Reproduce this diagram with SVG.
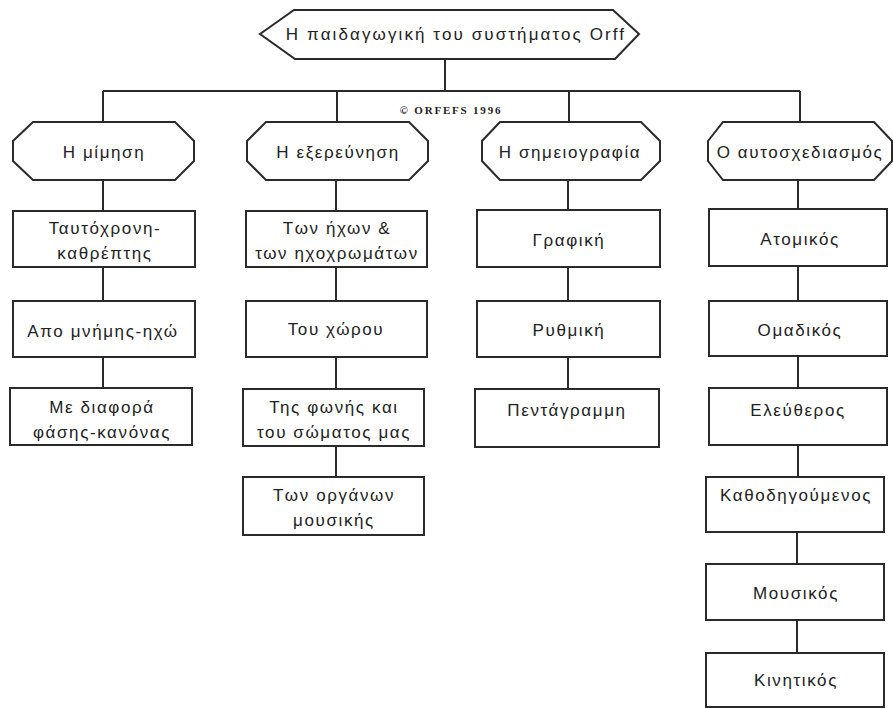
<svg xmlns="http://www.w3.org/2000/svg" width="893" height="708" viewBox="0 0 893 708">
<style>
.shape{fill:#fff;stroke:#2a2a2a;stroke-width:2}
.ln{stroke:#2a2a2a;stroke-width:2;fill:none}
text{font-family:"Liberation Sans",Arial,sans-serif;font-size:17px;fill:#222;text-anchor:middle;dominant-baseline:central;letter-spacing:1.6px}
.title{font-size:17px;letter-spacing:2.1px}
.copy{font-family:"Liberation Serif","Times New Roman",serif;font-size:11px;font-weight:bold;letter-spacing:1.8px}
</style>
<rect width="893" height="708" fill="#fff"/>
<g id="connectors" class="ln">
<path d="M445 59V91M103 91H800M103 91V122M337 91V122M569 91V122M800 91V122"/>
<path d="M103 180V211M103 267V301M103 357V388"/>
<path d="M336 180V211M336 267V301M336 357V389M336 446V477"/>
<path d="M568 180V210M568 267V301M568 357V389"/>
<path d="M798 180V209M798 266V301M798 356V388M798 445V477M797 532V564M797 620V653"/>
</g>
<g id="root"><polygon class="shape" points="260,34 294,10 613,10 639,34 615,59 295,59"/><text class="title" x="456" y="34">Η παιδαγωγική του συστήματος Orff</text></g>
<g id="copyright"><text class="copy" x="451" y="110">© ORFEFS 1996</text></g>
<g id="mimisi"><polygon class="shape" points="33,122 175,122 194,141 194,161 175,180 33,180 13,161 13,141"/><text x="104" y="152">Η μίμηση</text></g>
<g id="exerevnisi"><polygon class="shape" points="266,122 409,122 428,141 428,161 409,180 266,180 247,161 247,141"/><text x="338" y="152">Η εξερεύνηση</text></g>
<g id="simeiografia"><polygon class="shape" points="500,122 641,122 660,141 660,161 641,180 500,180 482,161 482,141"/><text x="570" y="152">Η σημειογραφία</text></g>
<g id="aftosxediasmos"><polygon class="shape" points="723,122 874,122 892,141 892,161 874,180 723,180 708,161 708,141"/><text x="800" y="152">Ο αυτοσχεδιασμός</text></g>
<g id="taftoxroni"><rect class="shape" x="13" y="211" width="182" height="56"/><text x="105" y="228">Ταυτόχρονη-</text><text x="105" y="253">καθρέπτης</text></g>
<g id="apo-mnimis"><rect class="shape" x="13" y="301" width="182" height="56"/><text x="103" y="331">Απο μνήμης-ηχώ</text></g>
<g id="me-diafora"><rect class="shape" x="10" y="388" width="182" height="57"/><text x="102" y="407">Με διαφορά</text><text x="102" y="432">φάσης-κανόνας</text></g>
<g id="ixon"><rect class="shape" x="246" y="211" width="181" height="56"/><text x="337" y="228">Των ήχων &amp;</text><text x="337" y="253">των ηχοχρωμάτων</text></g>
<g id="xorou"><rect class="shape" x="246" y="301" width="181" height="56"/><text x="336" y="329">Του χώρου</text></g>
<g id="fonis"><rect class="shape" x="243" y="389" width="181" height="57"/><text x="334" y="407">Της φωνής και</text><text x="334" y="432">του σώματος μας</text></g>
<g id="organon"><rect class="shape" x="243" y="477" width="181" height="58"/><text x="334" y="495">Των οργάνων</text><text x="334" y="520">μουσικής</text></g>
<g id="grafiki"><rect class="shape" x="477" y="210" width="183" height="57"/><text x="569" y="240">Γραφική</text></g>
<g id="rythmiki"><rect class="shape" x="477" y="301" width="183" height="56"/><text x="569" y="330">Ρυθμική</text></g>
<g id="pentagrammi"><rect class="shape" x="475" y="389" width="184" height="58"/><text x="567" y="410">Πεντάγραμμη</text></g>
<g id="atomikos"><rect class="shape" x="709" y="209" width="178" height="57"/><text x="800" y="239">Ατομικός</text></g>
<g id="omadikos"><rect class="shape" x="709" y="301" width="178" height="55"/><text x="800" y="330">Ομαδικός</text></g>
<g id="eleftheros"><rect class="shape" x="709" y="388" width="178" height="57"/><text x="798" y="410">Ελεύθερος</text></g>
<g id="kathodigoumenos"><rect class="shape" x="706" y="477" width="178" height="55"/><text x="796" y="495">Καθοδηγούμενος</text></g>
<g id="mousikos"><rect class="shape" x="706" y="564" width="178" height="56"/><text x="796" y="593">Μουσικός</text></g>
<g id="kinitikos"><rect class="shape" x="706" y="653" width="178" height="54"/><text x="796" y="680">Κινητικός</text></g>
</svg>
